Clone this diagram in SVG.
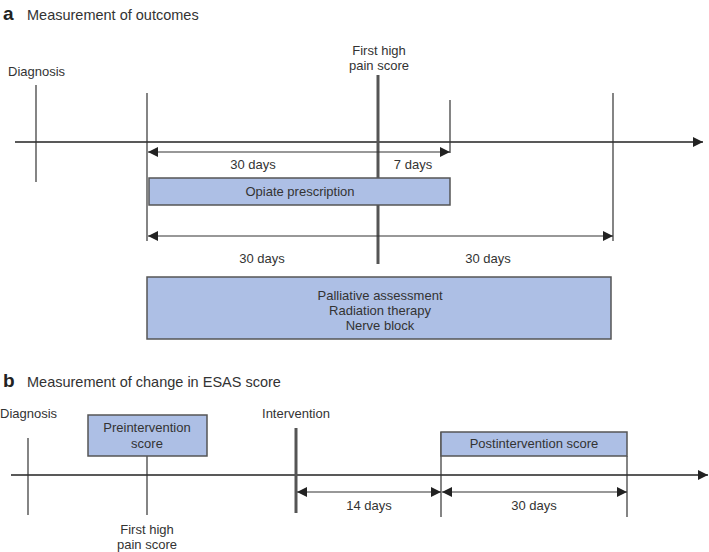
<svg xmlns="http://www.w3.org/2000/svg" width="709" height="552" viewBox="0 0 709 552">
<defs>
<marker id="ah" viewBox="0 0 10 10" refX="10" refY="5" markerWidth="10" markerHeight="10" markerUnits="userSpaceOnUse" orient="auto-start-reverse">
<path d="M0,0 L10,5 L0,10 Z" fill="#222"/>
</marker>
</defs>
<style>
text{font-family:"Liberation Sans",Arial,sans-serif;fill:#333;font-size:13px}
.t{font-size:14.5px}
.b{font-size:19px;font-weight:bold;fill:#222}
.c{text-anchor:middle}
.ln{stroke:#333;stroke-width:1.2;fill:none}
.thick{stroke:#555;stroke-width:3;fill:none}
.arr{stroke:#333;stroke-width:1.2;fill:none;marker-start:url(#ah);marker-end:url(#ah)}
.ax{stroke:#222;stroke-width:1.3;fill:none;marker-end:url(#ah)}
.box{fill:#adbfe5;stroke:#555;stroke-width:1.5}
</style>
<rect width="709" height="552" fill="#fff"/>

<g id="title-a">
<text class="b" x="3" y="20">a</text>
<text class="t" x="27" y="20">Measurement of outcomes</text>
</g>

<g id="connectors">
<!-- panel a -->
<line class="ax" x1="15" y1="142" x2="703" y2="142"/>
<line class="ln" x1="36" y1="85" x2="36" y2="182"/>
<line class="ln" x1="147" y1="93" x2="147" y2="241"/>
<line class="ln" x1="450" y1="100" x2="450" y2="153"/>
<line class="ln" x1="613" y1="93" x2="613" y2="241"/>
<line class="thick" x1="378" y1="75" x2="378" y2="264"/>
<line class="arr" x1="148" y1="152" x2="450" y2="152"/>
<line class="arr" x1="148" y1="236" x2="613" y2="236"/>
<!-- panel b -->
<line class="ax" x1="11" y1="475" x2="708" y2="475"/>
<line class="ln" x1="28" y1="438" x2="28" y2="515"/>
<line class="ln" x1="147" y1="456" x2="147" y2="515"/>
<line class="ln" x1="441" y1="432" x2="441" y2="517"/>
<line class="ln" x1="627" y1="456" x2="627" y2="517"/>
<line class="thick" x1="296" y1="428" x2="296" y2="513"/>
<line class="arr" x1="297" y1="492" x2="441" y2="492"/>
<line class="arr" x1="442" y1="492" x2="627" y2="492"/>
</g>

<g id="diagnosis-a"><text x="8" y="76">Diagnosis</text></g>
<g id="first-high-a">
<text class="c" x="379" y="55">First high</text>
<text class="c" x="379" y="70">pain score</text>
</g>
<g id="labels-a">
<text class="c" x="253" y="169">30 days</text>
<text class="c" x="413" y="169">7 days</text>
<text class="c" x="262" y="263">30 days</text>
<text class="c" x="488" y="263">30 days</text>
</g>
<g id="opiate">
<rect class="box" x="149" y="178" width="301" height="27"/>
<text class="c" x="300" y="196">Opiate prescription</text>
</g>
<g id="palliative">
<rect class="box" x="147" y="277" width="464" height="62"/>
<text class="c" x="380" y="300">Palliative assessment</text>
<text class="c" x="380" y="315">Radiation therapy</text>
<text class="c" x="380" y="330">Nerve block</text>
</g>

<g id="title-b">
<text class="b" x="3" y="387">b</text>
<text class="t" x="27" y="387">Measurement of change in ESAS score</text>
</g>
<g id="diagnosis-b"><text x="0" y="418">Diagnosis</text></g>
<g id="preintervention">
<rect class="box" x="88" y="415" width="119" height="41"/>
<text class="c" x="147" y="432">Preintervention</text>
<text class="c" x="147" y="448">score</text>
</g>
<g id="first-high-b">
<text class="c" x="147" y="534">First high</text>
<text class="c" x="147" y="549">pain score</text>
</g>
<g id="intervention"><text class="c" x="296" y="418">Intervention</text></g>
<g id="postintervention">
<rect class="box" x="441" y="432" width="186" height="24"/>
<text class="c" x="534" y="448">Postintervention score</text>
</g>
<g id="labels-b">
<text class="c" x="369" y="510">14 days</text>
<text class="c" x="534" y="510">30 days</text>
</g>
</svg>
